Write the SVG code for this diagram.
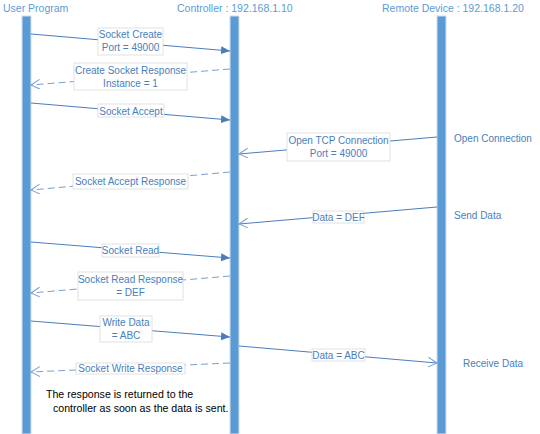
<svg xmlns="http://www.w3.org/2000/svg" width="540" height="434" viewBox="0 0 540 434">
<style>
text{font-family:"Liberation Sans",Arial,sans-serif;font-size:10px;fill:#4a7ebb}
.hdr{font-size:10.5px;fill:#5b9bd5}
.note{fill:#000;font-size:10.6px}
.bar{fill:#5b9bd5;stroke:#d3dded;stroke-width:1}
.msg{stroke:#4a7ebb;stroke-width:1;fill:none}
.ret{stroke:#7aa0cf;stroke-width:1;fill:none;stroke-dasharray:7 4}
.lbl{fill:#fff;stroke:#d9d9d9;stroke-width:0.8}
.c{text-anchor:middle}
</style>
<defs>
<marker id="fill" markerUnits="userSpaceOnUse" markerWidth="10" markerHeight="9" refX="9" refY="4" orient="auto">
<path d="M0,0 L9,4 L0,8 z" fill="#4a7ebb"/>
</marker>
<marker id="open" markerUnits="userSpaceOnUse" markerWidth="10" markerHeight="11" refX="9" refY="5" orient="auto">
<path d="M0,0 L9,5 L0,10" fill="none" stroke="#7aa0cf" stroke-width="1"/>
</marker>
</defs>
<g id="user-program">
<text class="hdr" x="3" y="12">User Program</text>
<rect class="bar" x="22" y="16" width="9" height="418"/>
</g>
<g id="controller">
<text class="hdr" x="177" y="12">Controller : 192.168.1.10</text>
<rect class="bar" x="230" y="16" width="9" height="418"/>
</g>
<g id="remote-device">
<text class="hdr" x="382" y="12">Remote Device : 192.168.1.20</text>
<rect class="bar" x="437" y="16" width="9" height="418"/>
<text x="454" y="142">Open Connection</text>
<text x="454" y="219">Send Data</text>
<text x="463" y="367">Receive Data</text>
</g>
<g id="connectors">
<line class="msg" x1="31" y1="34" x2="230" y2="51" marker-end="url(#fill)"/>
<line class="ret" x1="230" y1="69" x2="31" y2="85" marker-end="url(#open)"/>
<line class="msg" x1="31" y1="103" x2="230" y2="120" marker-end="url(#fill)"/>
<line class="msg" x1="437" y1="137" x2="239" y2="154" marker-end="url(#open)"/>
<line class="ret" x1="230" y1="172" x2="31" y2="190" marker-end="url(#open)"/>
<line class="msg" x1="437" y1="207" x2="239" y2="224" marker-end="url(#open)"/>
<line class="msg" x1="31" y1="242" x2="230" y2="258" marker-end="url(#fill)"/>
<line class="ret" x1="230" y1="276" x2="31" y2="293" marker-end="url(#open)"/>
<line class="msg" x1="31" y1="321" x2="230" y2="337" marker-end="url(#fill)"/>
<line class="msg" x1="239" y1="346" x2="437" y2="363" marker-end="url(#open)"/>
<line class="ret" x1="230" y1="363" x2="31" y2="372" marker-end="url(#open)"/>
</g>
<g id="labels">
<rect class="lbl" x="98" y="28" width="65" height="27"/>
<text class="c" x="130.5" y="38">Socket Create</text>
<text class="c" x="130.5" y="51">Port = 49000</text>
<rect class="lbl" x="74" y="63" width="113" height="27"/>
<text class="c" x="130.5" y="74">Create Socket Response</text>
<text class="c" x="130.5" y="87">Instance = 1</text>
<rect class="lbl" x="98" y="104" width="66" height="13"/>
<text class="c" x="131" y="114.5">Socket Accept</text>
<rect class="lbl" x="287" y="133" width="103" height="28"/>
<text class="c" x="338.5" y="143.5">Open TCP Connection</text>
<text class="c" x="338.5" y="157">Port = 49000</text>
<rect class="lbl" x="73" y="174" width="115" height="15"/>
<text class="c" x="130.5" y="185">Socket Accept Response</text>
<rect class="lbl" x="313" y="211" width="51" height="12"/>
<text class="c" x="338.5" y="220.5">Data = DEF</text>
<rect class="lbl" x="102" y="244" width="57" height="13"/>
<text class="c" x="130.5" y="253.5">Socket Read</text>
<rect class="lbl" x="78" y="272" width="105" height="28"/>
<text class="c" x="130.5" y="282.5">Socket Read Response</text>
<text class="c" x="130.5" y="296">= DEF</text>
<rect class="lbl" x="100" y="316" width="52" height="26"/>
<text class="c" x="126" y="326">Write Data</text>
<text class="c" x="126" y="338.5">= ABC</text>
<rect class="lbl" x="312" y="349" width="53" height="12"/>
<text class="c" x="338.5" y="358.5">Data = ABC</text>
<rect class="lbl" x="76" y="363" width="109" height="11"/>
<text class="c" x="130.5" y="372">Socket Write Response</text>
</g>
<g id="note">
<text class="note" x="46" y="398">The response is returned to the</text>
<text class="note" x="53" y="412">controller as soon as the data is sent.</text>
</g>
</svg>
